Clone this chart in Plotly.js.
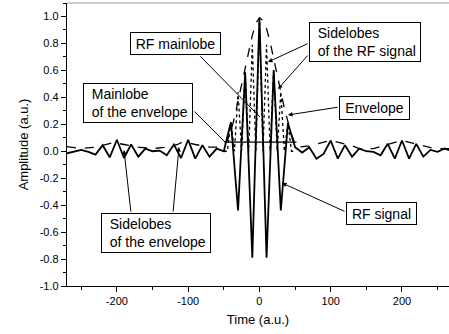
<!DOCTYPE html>
<html>
<head>
<meta charset="utf-8">
<script src="https://cdn.plot.ly/plotly-3.0.1.min.js"></script>
<style>html,body{margin:0;padding:0;background:#fff}#chart{width:449px;height:334px}</style>
</head>
<body>
<div id="chart"></div>
<script>
// RF signal samples (time step 10 a.u.)
var rfTime = [-270,-260,-250,-240,-230,-220,-210,-200,-190,-180,-170,-160,-150,-140,-130,-120,-110,-100,-90,-80,-70,-60,-50,-40,-30,-20,-10,0,10,20,30,40,50,60,70,80,90,100,110,120,130,140,150,160,170,180,190,200,210,220,230,240,250,260,270];
var rfValue = [-0.015,0.0,0.01,-0.005,-0.025,0.045,-0.045,0.085,-0.05,0.05,-0.04,0.02,0.0,0.005,-0.03,0.05,-0.05,0.085,-0.055,0.045,-0.04,0.02,0.0,0.215,-0.44,0.585,-0.79,0.99,-0.79,0.60,-0.44,0.21,0.03,-0.01,0.03,-0.055,-0.02,0.08,-0.055,0.045,-0.04,0.02,0.0,-0.005,-0.03,0.055,-0.055,0.08,-0.055,0.055,-0.04,0.01,-0.005,0.02,0.0];

// Envelope (dashed)
var envTime = [-270,-250,-230,-215,-205,-190,-170,-150,-130,-115,-107,-90,-70,-55,-50,-45,-40,-35,-30,-25,-20,-15,-10,-5,0,5,10,15,20,25,30,35,40,45,50,55,70,85,100,115,130,140,160,180,200,215,230,245,266];
var envValue = [0.035,0.02,0.03,0.05,0.065,0.05,0.03,0.02,0.03,0.05,0.07,0.05,0.03,0.03,0.05,0.08,0.15,0.25,0.37,0.50,0.63,0.75,0.86,0.95,0.99,0.97,0.91,0.81,0.69,0.55,0.43,0.32,0.22,0.12,0.06,0.03,0.04,0.06,0.08,0.06,0.04,0.02,0.02,0.05,0.08,0.06,0.04,0.02,0.02];

// Rectified RF (dotted)
var rectTime = [-50,-45,-40,-35,-30,-25,-20,-15,-10,-5,0,5,10,15,20,25,30,35,40,45,50];
var rectValue = [0,0,0.215,0,0.44,0,0.585,0,0.79,0,0.99,0,0.79,0,0.60,0,0.44,0,0.21,0,0];

// Mainlobe base level (horizontal line)
var baseTime = [-46, 52];
var baseValue = [0.067, 0.067];

// Tick labels
var xTickVals = [-200,-100,0,100,200];
var xTickText = ['-200','-100','0','100','200'];
var yTickVals = [-1.0,-0.8,-0.6,-0.4,-0.2,0.0,0.2,0.4,0.6,0.8,1.0];
var yTickText = ['-1.0','-0.8','-0.6','-0.4','-0.2','0.0','0.2','0.4','0.6','0.8','1.0'];

var FONT = 'Liberation Sans, Arial, sans-serif';
var X0 = -270, X1 = 266, Y0 = -1.0, Y1 = 1.1;
var L = 67, T = 3, W = 382, H = 283;
function px(p){ return X0 + (p - L) * (X1 - X0) / W; }
function py(p){ return Y1 - (p - T) * (Y1 - Y0) / H; }

var traces = [
  {x: baseTime, y: baseValue, mode: 'lines', line: {color: '#000', width: 1.2}, hoverinfo: 'skip'},
  {x: rectTime, y: rectValue, mode: 'lines', line: {color: '#000', width: 1.3, dash: 'dot'}, hoverinfo: 'skip'},
  {x: envTime, y: envValue, mode: 'lines', line: {color: '#000', width: 1.3, dash: 'dash'}, hoverinfo: 'skip'},
  {x: rfTime, y: rfValue, mode: 'lines', line: {color: '#000', width: 1.8}, hoverinfo: 'skip'}
];

function box(text, l, t, r, b, align){
  return {xref: 'x', yref: 'y', x: px((l + r) / 2), y: py((t + b) / 2), xanchor: 'center', yanchor: 'middle',
    text: text, showarrow: false, align: align || 'center', width: r - l - 2, height: b - t - 2,
    bordercolor: '#000', borderwidth: 1, borderpad: 0, bgcolor: '#fff',
    font: {family: FONT, size: 14, color: '#000'}};
}
function arrow(x1, y1, x2, y2, head){
  return {xref: 'x', yref: 'y', axref: 'x', ayref: 'y', x: px(x2), y: py(y2), ax: px(x1), ay: py(y1),
    text: '', showarrow: true, arrowhead: head ? 2 : 0, arrowsize: 0.9, arrowwidth: 1, arrowcolor: '#000', standoff: 0, startstandoff: 0};
}

var P = '&nbsp;&nbsp;';
var annotations = [
  arrow(199, 55, 260, 117, false),
  arrow(193, 110, 225, 142, false),
  arrow(309, 43, 268, 62, true),
  arrow(309, 54, 278, 89, true),
  arrow(339, 107, 288, 115, true),
  arrow(346, 212, 282, 183, true),
  arrow(131, 213, 124, 150, true),
  arrow(173, 213, 179, 147, true),
  box('RF mainlobe', 130, 32, 221, 55),
  box(P + 'Mainlobe<br>' + P + 'of the envelope', 83, 83, 193, 123, 'left'),
  box(P + 'Sidelobes<br>' + P + 'of the RF signal', 309, 22, 421, 62, 'left'),
  box('Envelope', 339, 96, 410, 120),
  box('RF signal', 346, 202, 417, 225),
  box(P + 'Sidelobes<br>' + P + 'of the envelope', 101, 213, 211, 253, 'left')
];

var layout = {
  width: 449, height: 334,
  margin: {l: L, r: 449 - L - W, t: T, b: 334 - T - H},
  paper_bgcolor: '#fff', plot_bgcolor: '#fff',
  showlegend: false,
  font: {family: FONT, color: '#000'},
  xaxis: {
    range: [X0, X1], tickvals: xTickVals, ticktext: xTickText,
    ticks: 'outside', ticklen: 5, tickwidth: 1, tickcolor: '#000',
    showline: true, linecolor: '#000', linewidth: 1.2, zeroline: false, showgrid: false,
    minor: {tickvals: [-250,-150,-50,50,150,250], ticks: 'outside', ticklen: 3, tickcolor: '#000', tickwidth: 1, showgrid: false},
    tickfont: {family: FONT, size: 11, color: '#000'},
    title: {text: 'Time (a.u.)', font: {family: FONT, size: 13, color: '#000'}, standoff: 8}
  },
  yaxis: {
    range: [Y0, Y1], tickvals: yTickVals, ticktext: yTickText,
    ticks: 'outside', ticklen: 5, tickwidth: 1, tickcolor: '#000',
    showline: true, linecolor: '#000', linewidth: 1.2, zeroline: false, showgrid: false,
    minor: {dtick: 0.1, tick0: 0, ticks: 'outside', ticklen: 3, tickcolor: '#000', tickwidth: 1, showgrid: false},
    tickfont: {family: FONT, size: 11, color: '#000'},
    title: {text: 'Amplitude (a.u.)', font: {family: FONT, size: 13, color: '#000'}, standoff: 8}
  },
  shapes: [{type: 'line', xref: 'paper', yref: 'paper', x0: 0, x1: 1, y0: 1, y1: 1, line: {color: '#999', width: 1}}],
  annotations: annotations
};

Plotly.newPlot('chart', traces, layout, {staticPlot: true, displayModeBar: false});
</script>
</body>
</html>
